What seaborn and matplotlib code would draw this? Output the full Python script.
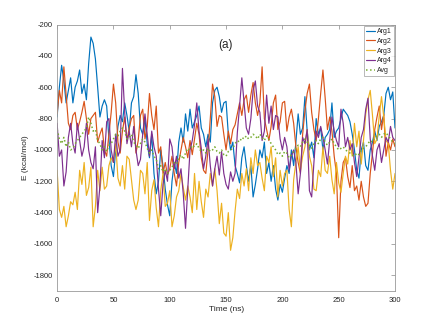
import matplotlib
matplotlib.use("Agg")
import matplotlib.pyplot as plt
import seaborn as sns
import pandas as pd

time_ns = list(range(0, 301, 2))

arg1 = [-790,-600,-460,-560,-700,-620,-540,-700,-600,-560,
        -490,-640,-580,-680,-450,-280,-320,-420,-600,-790,
        -720,-680,-720,-930,-1100,-1170,-1000,-850,-780,-820,
        -700,-780,-880,-700,-660,-520,-640,-860,-900,-800,
        -960,-1050,-900,-1150,-1280,-1200,-1000,-1100,-1250,-1350,
        -1420,-1200,-1080,-1150,-950,-860,-950,-770,-880,-740,
        -860,-820,-780,-720,-860,-900,-980,-900,-950,-700,
        -620,-600,-660,-760,-700,-690,-900,-1000,-950,-1100,
        -1150,-1210,-1050,-980,-1100,-1200,-1100,-1300,-1220,-1120,
        -1000,-1050,-950,-1150,-1080,-1200,-1100,-1250,-1320,-1220,
        -1270,-1180,-1100,-1150,-1000,-1100,-950,-770,-900,-860,
        -660,-880,-1000,-950,-1050,-800,-900,-860,-1000,-920,
        -900,-870,-700,-920,-880,-860,-800,-740,-760,-780,
        -820,-900,-1000,-1130,-1180,-1000,-950,-1100,-1130,-1000,
        -950,-880,-940,-850,-820,-780,-640,-600,-680,-630,
        -860]

arg2 = [-770,-620,-700,-470,-650,-830,-870,-780,-760,-870,
        -820,-760,-690,-800,-900,-800,-780,-760,-950,-900,
        -860,-1000,-1040,-900,-760,-580,-700,-950,-1020,-880,
        -790,-940,-860,-800,-780,-1020,-940,-780,-740,-930,
        -850,-640,-780,-870,-720,-1020,-980,-1150,-1080,-1160,
        -1120,-1040,-1150,-1230,-1080,-1000,-920,-980,-1050,-940,
        -1030,-930,-830,-900,-1050,-1130,-1150,-1000,-800,-580,
        -660,-850,-780,-790,-900,-1000,-880,-960,-870,-840,
        -770,-700,-780,-680,-650,-760,-650,-570,-700,-780,
        -700,-470,-800,-870,-940,-850,-700,-650,-870,-820,
        -700,-690,-880,-790,-740,-830,-980,-1080,-1150,-900,
        -750,-640,-580,-760,-870,-940,-800,-640,-490,-670,
        -870,-790,-880,-1040,-1150,-1560,-1200,-1080,-1050,-1170,
        -1240,-1100,-1260,-1230,-1320,-1200,-1300,-1360,-1340,-1150,
        -1020,-870,-790,-720,-870,-770,-1040,-950,-1000,-930,
        -980]

arg3 = [-1130,-1380,-1430,-1360,-1490,-1420,-1330,-1350,-1270,-1380,
        -1130,-1220,-1080,-1290,-1240,-1110,-1490,-1360,-1130,-1260,
        -1110,-1250,-1230,-1100,-1050,-1080,-960,-1180,-1230,-1100,
        -1250,-1040,-1060,-1190,-1320,-1380,-1320,-1130,-1150,-1280,
        -1080,-1450,-1260,-1190,-1370,-1490,-1260,-1150,-1360,-1340,
        -1260,-1490,-1420,-1300,-1260,-1150,-1240,-1320,-1230,-1300,
        -1400,-1150,-1380,-1200,-1330,-1430,-1250,-1300,-1150,-1230,
        -1120,-1260,-1470,-1340,-1530,-1550,-1400,-1640,-1560,-1390,
        -1250,-1310,-1150,-1230,-1120,-1260,-1050,-1150,-1000,-1100,
        -1080,-1180,-1260,-1040,-1080,-980,-1170,-1050,-1300,-1130,
        -1230,-1150,-1130,-1380,-1490,-1190,-1080,-980,-1130,-1040,
        -980,-870,-1040,-1100,-1250,-1260,-1130,-1170,-980,-1130,
        -1150,-1040,-1190,-1280,-1080,-1210,-1270,-1150,-1040,-1090,
        -940,-1040,-830,-980,-880,-1090,-940,-770,-680,-620,
        -780,-960,-930,-780,-660,-790,-940,-960,-1130,-1250,
        -1150]

arg4 = [-830,-1040,-1000,-1230,-1140,-920,-830,-960,-1020,-830,
        -940,-1040,-980,-830,-1000,-1080,-1120,-980,-1400,-1230,
        -940,-1050,-820,-800,-1000,-1080,-900,-1040,-1000,-480,
        -760,-960,-880,-980,-850,-1000,-1100,-1060,-900,-770,
        -900,-1040,-880,-980,-1040,-1250,-1420,-1220,-1130,-1200,
        -930,-980,-1120,-1040,-1180,-1120,-1280,-1500,-1250,-1000,
        -940,-840,-700,-880,-990,-1120,-1040,-930,-1100,-1230,
        -1120,-1040,-1160,-1010,-1150,-1220,-1250,-1140,-1200,-1150,
        -890,-720,-540,-700,-860,-900,-800,-620,-560,-720,
        -760,-940,-880,-650,-830,-720,-870,-780,-790,-930,
        -1000,-920,-980,-1130,-1040,-1000,-1080,-1280,-1150,-920,
        -960,-870,-1260,-1300,-1080,-880,-920,-850,-920,-1000,
        -1090,-940,-790,-880,-940,-980,-740,-830,-980,-920,
        -1000,-960,-1080,-1170,-1050,-920,-870,-740,-670,-930,
        -1040,-1130,-1000,-960,-1080,-1000,-920,-950,-850,-920,
        -940]

avg = [-870,-930,-960,-920,-980,-950,-1000,-990,-960,-940,
       -920,-900,-880,-860,-790,-830,-880,-870,-940,-960,
       -1000,-980,-1010,-970,-960,-930,-900,-910,-880,-860,
       -880,-930,-920,-900,-950,-970,-990,-960,-930,-950,
       -990,-1020,-1000,-1040,-1060,-1120,-1100,-1140,-1120,-1150,
       -1130,-1110,-1080,-1090,-1050,-1030,-1060,-1020,-990,-1000,
       -970,-980,-960,-990,-1010,-1000,-1020,-990,-1010,-1000,
       -980,-1010,-1020,-1000,-1030,-1040,-1010,-1000,-990,-960,
       -940,-950,-920,-930,-910,-930,-920,-900,-910,-930,
       -900,-920,-940,-910,-930,-960,-980,-1000,-1030,-1020,
       -1040,-1010,-1020,-1050,-1030,-1010,-990,-970,-980,-950,
       -930,-950,-970,-990,-960,-940,-960,-930,-920,-950,
       -970,-950,-930,-960,-980,-1000,-990,-980,-1000,-1010,
       -1020,-1030,-1040,-1020,-1030,-1000,-990,-980,-960,-940,
       -950,-920,-910,-900,-920,-900,-890,-910,-930,-950,
       -960]

series_names = ["Arg1", "Arg2", "Arg3", "Arg4", "Avg"]
series_values = [arg1, arg2, arg3, arg4, avg]
colors = ["#0072BD", "#D95319", "#EDB120", "#7E2F8E", "#77AC30"]
styles = ["-", "-", "-", "-", ":"]

x_ticks = [0, 50, 100, 150, 200, 250, 300]
y_ticks = [-1800, -1600, -1400, -1200, -1000, -800, -600, -400, -200]

for v in series_values:
    assert len(v) == len(time_ns), len(v)

sns.set_theme(style="white")
plt.rcParams['font.family'] = ['Liberation Sans', 'DejaVu Sans']

fig = plt.figure(figsize=(4.36, 3.27), dpi=100)
ax = fig.add_axes([0.131, 0.110, 0.775, 0.815])

for name, vals, col, ls in zip(series_names, series_values, colors, styles):
    df = pd.DataFrame({"t": time_ns, "E": vals})
    sns.lineplot(data=df, x="t", y="E", ax=ax, color=col, linestyle=ls,
                 linewidth=0.85 if ls == "-" else 1.1, label=name)

ax.set_xlim(0, 300)
ax.set_ylim(-1900, -200)
ax.set_xticks(x_ticks)
ax.set_yticks(y_ticks)
ax.set_xticklabels([str(v) for v in x_ticks])
ax.set_yticklabels([str(v) for v in y_ticks])
ax.tick_params(direction="in", length=3, width=0.5, colors="#888888",
               labelcolor="#262626", labelsize=5.5, top=True, right=True)
ax.tick_params(axis="y", pad=3)
ax.tick_params(axis="x", pad=4)
for s in ax.spines.values():
    s.set_color("#999999")
    s.set_linewidth(0.6)
ax.set_xlabel("Time (ns)", fontsize=6, color="#262626", labelpad=2)
ax.set_ylabel("E (kcal/mol)", fontsize=6, color="#262626")
ax.yaxis.set_label_coords(-0.082, 0.5)
ax.text(0.497, 0.925, "(a)", transform=ax.transAxes, ha="center", va="center",
        fontsize=8.5, color="#262626")

leg = ax.legend(loc="upper right", fontsize=5, frameon=True, fancybox=False,
                borderaxespad=0.2, handlelength=1.3, handletextpad=0.2,
                labelspacing=0.4, borderpad=0.3)
leg.get_frame().set_edgecolor("#999999")
leg.get_frame().set_linewidth(0.6)

fig.savefig("out.png", dpi=100)
